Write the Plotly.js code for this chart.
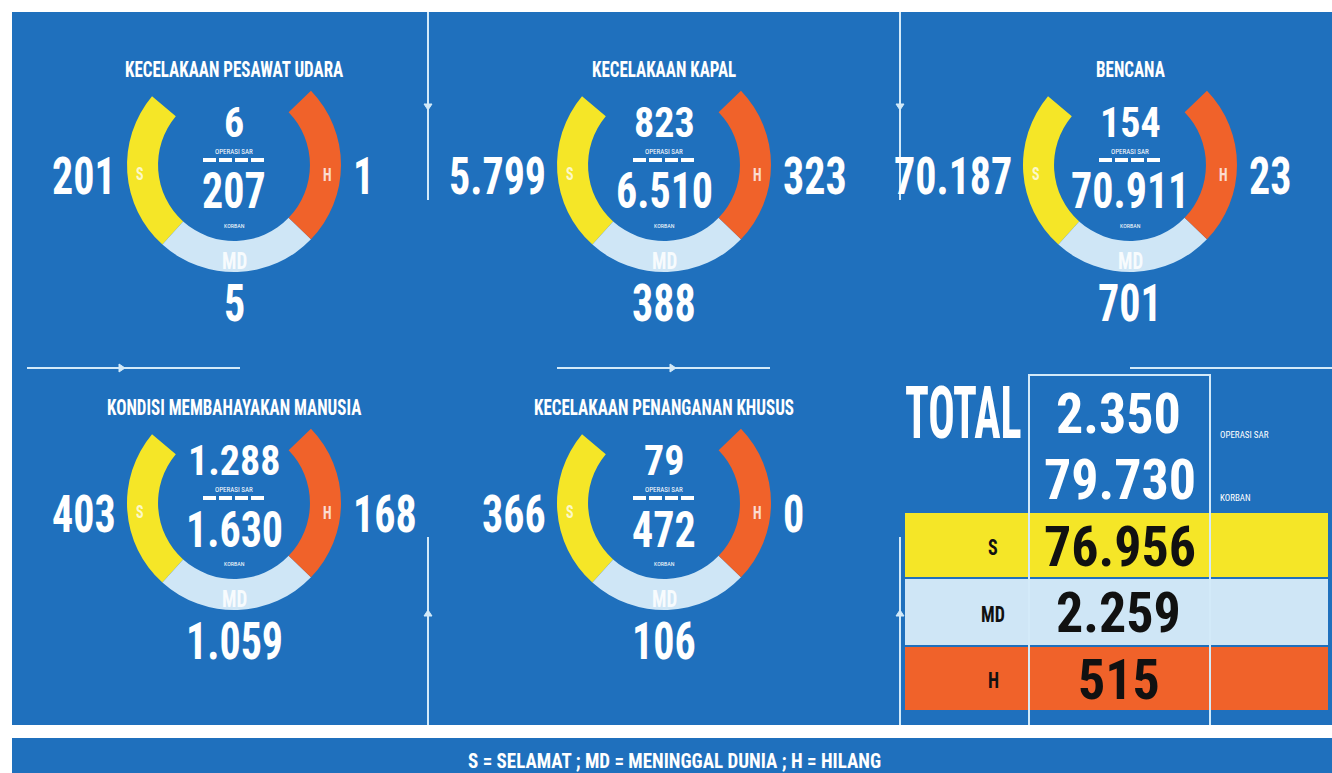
<!DOCTYPE html>
<html>
<head>
<meta charset="utf-8">
<script src="https://cdn.plot.ly/plotly-3.0.1.min.js"></script>
<style>
  html, body { margin: 0; padding: 0; background: #ffffff; }
  #chart { width: 1332px; height: 773px; }
</style>
</head>
<body>
<div id="chart"></div>
<script>
// ---------------- DATA ----------------
const incidents = ['KECELAKAAN PESAWAT UDARA', 'KECELAKAAN KAPAL', 'BENCANA',
                   'KONDISI MEMBAHAYAKAN MANUSIA', 'KECELAKAAN PENANGANAN KHUSUS'];
const operasiSar = [6, 823, 154, 1288, 79];
const korban     = [207, 6510, 70911, 1630, 472];
const selamat    = [201, 5799, 70187, 403, 366];
const meninggal  = [5, 388, 701, 1059, 106];
const hilang     = [1, 323, 23, 168, 0];
const statusCodes = ['S', 'MD', 'H'];
const labelOperasi = 'OPERASI SAR';
const labelKorban = 'KORBAN';
const labelTotal = 'TOTAL';
const legendText = 'S = SELAMAT ; MD = MENINGGAL DUNIA ; H = HILANG';

// ---------------- STYLE / LAYOUT ----------------
const W = 1332, H = 773;
const px = x => x / W;
const py = y => 1 - y / H;
const fmt = n => String(n).replace(/\B(?=(\d{3})+(?!\d))/g, '.');
const sum = a => a.reduce((s, v) => s + v, 0);

const BLUE = '#1f70bd', YELLOW = '#f5e627', LIGHT = '#cfe6f6', ORANGE = '#f0622a';
const LINE = '#d3eaf9', WHITE = '#ffffff', BLACK = '#111111';
const FONT = 'Roboto Condensed, Roboto, sans-serif';

const centers = [[234, 165], [664, 165], [1130, 165], [234, 503], [664, 503]];
const R = 107;               // outer radius of each ring (px)
const gapDeg = 96;           // opening of the ring at the top

const traces = [];
const annotations = [];
const stretches = [];        // vertical stretch per text (condensed display face look)
const shapes = [];

function ann(text, x, y, size, opt) {
  opt = opt || {};
  annotations.push({
    text: text, x: px(x), y: py(y), xref: 'paper', yref: 'paper',
    xanchor: opt.xanchor || 'center', yanchor: 'middle', showarrow: false,
    font: { family: FONT, size: size, color: opt.color || WHITE, weight: opt.weight || 'bold' }
  });
  stretches.push(opt.stretch || 1.25);
}
function line(x0, y0, x1, y1, opt) {
  opt = opt || {};
  shapes.push({ type: 'line', xref: 'paper', yref: 'paper', x0: px(x0), y0: py(y0), x1: px(x1), y1: py(y1),
    line: { color: opt.color || LINE, width: opt.width || 2, dash: opt.dash || 'solid' }, layer: opt.layer || 'below' });
}
function rect(x0, y0, x1, y1, color, layer) {
  shapes.push({ type: 'rect', xref: 'paper', yref: 'paper', x0: px(x0), y0: py(y0), x1: px(x1), y1: py(y1),
    fillcolor: color, line: { width: 0 }, layer: layer || 'below' });
}
function tri(pts) {
  const d = 'M' + pts.map(p => px(p[0]) + ',' + py(p[1])).join(' L') + ' Z';
  shapes.push({ type: 'path', xref: 'paper', yref: 'paper', path: d, fillcolor: LINE, line: { color: LINE, width: 1 }, layer: 'below' });
}

// background panels
rect(12, 12, W, 725, BLUE);
rect(12, 738, W, H, BLUE);

// connector lines with small arrow heads
line(428, 12, 428, 200); tri([[424, 104], [432, 104], [428, 110]]);
line(900, 12, 900, 200); tri([[896, 104], [904, 104], [900, 110]]);
line(27, 368, 240, 368); tri([[119, 364], [119, 372], [125, 368]]);
line(557, 368, 770, 368); tri([[670, 364], [670, 372], [676, 368]]);
line(1130, 368, W, 368);
line(428, 537, 428, 725); tri([[424, 616], [432, 616], [428, 610]]);
line(900, 537, 900, 725); tri([[896, 616], [904, 616], [900, 610]]);

// rings
const segDeg = (360 - gapDeg) / 3;
centers.forEach((c, i) => {
  const cx = c[0], cy = c[1];
  traces.push({
    type: 'pie', sort: false, direction: 'counterclockwise', rotation: -90 - gapDeg / 2,
    labels: statusCodes.concat(['']),
    values: [segDeg, segDeg, segDeg, gapDeg],
    marker: { colors: [YELLOW, LIGHT, ORANGE, 'rgba(0,0,0,0)'], line: { width: 0 } },
    hole: 0.71, textinfo: 'none', hoverinfo: 'none', showlegend: false,
    domain: { x: [px(cx - R), px(cx + R)], y: [py(cy + R), py(cy - R)] }
  });

  ann(incidents[i], cx, cy - 96, 17, { stretch: 1.3 });
  ann(fmt(selamat[i]), cx - 116, cy + 10, 42, { xanchor: 'right' });
  ann(fmt(hilang[i]), cx + 117, cy + 10, 42, { xanchor: 'left' });
  ann(fmt(meninggal[i]), cx, cy + 137, 42);
  ann(fmt(operasiSar[i]), cx, cy - 43, 40, { stretch: 1.08 });
  ann(labelOperasi, cx, cy - 13, 7, { weight: 'normal', stretch: 1 });
  line(cx - 31, cy - 5, cx + 31, cy - 5, { width: 4, dash: '13px,3px', color: WHITE, layer: 'above' });
  ann(fmt(korban[i]), cx, cy + 26, 42, { stretch: 1.2 });
  ann(labelKorban, cx, cy + 60, 6, { weight: 'normal', stretch: 1 });
  ann(statusCodes[0], cx - 94, cy + 9, 14, { color: 'rgba(255,255,255,0.75)' });
  ann(statusCodes[2], cx + 93, cy + 10, 14, { color: 'rgba(255,255,255,0.8)' });
  ann(statusCodes[1], cx, cy + 95, 19, { color: 'rgba(255,255,255,0.85)' });
});

// totals block
rect(905, 513, 1328, 577, YELLOW);
rect(905, 579, 1328, 645, LIGHT);
rect(905, 647, 1328, 710, ORANGE);
shapes.push({ type: 'path', xref: 'paper', yref: 'paper',
  path: 'M' + px(1029) + ',' + py(725) + ' L' + px(1029) + ',' + py(375) + ' L' + px(1210) + ',' + py(375) + ' L' + px(1210) + ',' + py(725),
  line: { color: LINE, width: 2 }, layer: 'below' });

ann(labelTotal, 963, 413, 44, { stretch: 1.65 });
ann(fmt(sum(operasiSar)), 1118, 413, 54, { stretch: 1.04 });
ann(fmt(sum(korban)), 1120, 480, 54, { stretch: 1.04 });
ann(labelOperasi, 1218, 435, 9, { xanchor: 'left', weight: 'normal', stretch: 1 });
ann(labelKorban, 1218, 498, 9, { xanchor: 'left', weight: 'normal', stretch: 1 });
ann(statusCodes[0], 993, 546, 18, { color: BLACK });
ann(statusCodes[1], 993, 613, 18, { color: BLACK });
ann(statusCodes[2], 993, 679, 18, { color: BLACK });
ann(fmt(sum(selamat)), 1120, 546, 54, { color: BLACK, stretch: 1.04 });
ann(fmt(sum(meninggal)), 1118, 612, 54, { color: BLACK, stretch: 1.04 });
ann(fmt(sum(hilang)), 1119, 679, 54, { color: BLACK, stretch: 1.04 });

// footer legend
ann(legendText, 674, 760, 19, { stretch: 1.1 });

const layout = {
  width: W, height: H,
  margin: { l: 0, r: 0, t: 0, b: 0, pad: 0 },
  paper_bgcolor: '#ffffff', plot_bgcolor: 'rgba(0,0,0,0)',
  showlegend: false,
  xaxis: { visible: false }, yaxis: { visible: false },
  shapes: shapes, annotations: annotations
};

Plotly.newPlot('chart', traces, layout, { displayModeBar: false, staticPlot: true }).then(gd => {
  gd.querySelectorAll('g.annotation').forEach(g => {
    const k = stretches[+g.getAttribute('data-index')] || 1;
    const t = g.querySelector('text.annotation-text');
    if (t && k !== 1) {
      t.style.transformBox = 'fill-box';
      t.style.transformOrigin = '50% 50%';
      t.style.transform = 'scaleY(' + k + ')';
    }
  });
});
</script>
</body>
</html>
